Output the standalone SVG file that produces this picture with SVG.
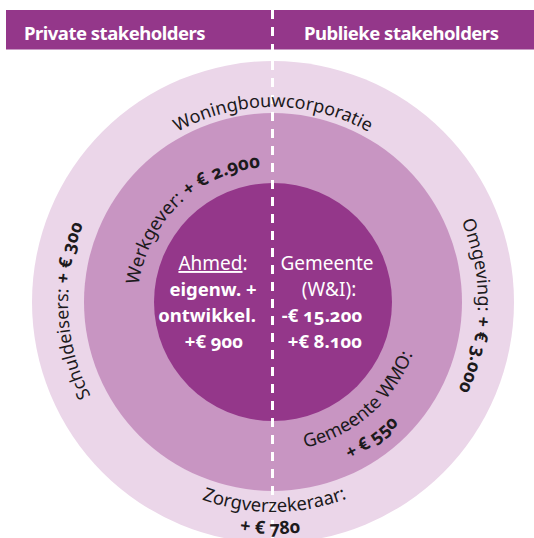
<svg xmlns="http://www.w3.org/2000/svg" width="534" height="538" viewBox="0 0 534 538">
<style>
.lbl{font-family:"Noto Sans","Open Sans","DejaVu Sans",sans-serif;font-size:18px;fill:#1c1a1c;font-variant-numeric:oldstyle-nums;font-feature-settings:"onum" 1}
.b{font-weight:bold}
.in{font-family:"Noto Sans","Open Sans","DejaVu Sans",sans-serif;font-size:19px;fill:#ffffff;text-anchor:middle;font-variant-numeric:oldstyle-nums;font-feature-settings:"onum" 1}
.ib{font-weight:bold;font-size:18.5px}
.hd{font-family:"Noto Sans","Open Sans","DejaVu Sans",sans-serif;font-size:18.5px;font-weight:bold;fill:#ffffff;letter-spacing:-0.5px}
</style>
<defs>
<path id="pTop" d="M 78,302 A 195 195 0 0 1 468,302"/>
<path id="pLeft" d="M 273,507 A 205 205 0 0 1 273,97"/>
<path id="pRight" d="M 273,97 A 205 205 0 0 1 273,507"/>
<path id="pBot" d="M 63,302 A 210 210 0 0 0 483,302"/>
<path id="pBot2" d="M 41,302 A 232 232 0 0 0 505,302"/>
<path id="pWerk" d="M 175.2,396.5 A 136 136 0 0 1 370.8,207.5"/>
<path id="pWmo" d="M 160.5,399.8 A 149 149 0 0 0 385.5,204.2"/>
<path id="pWmo2" d="M 131.4,404.9 A 175 175 0 0 0 414.6,199.1"/>
</defs>
<rect width="534" height="538" fill="#ffffff"/>
<g id="header">
<rect x="6" y="10" width="528" height="39.5" fill="#94378a"/>
</g>
<g id="ring-outer">
<circle cx="273" cy="302" r="241" fill="#ebd6e9"/>
</g>
<g id="ring-middle">
<circle cx="273" cy="302" r="189" fill="#c895c2"/>
</g>
<g id="ring-inner">
<circle cx="273" cy="302" r="119" fill="#94378a"/>
</g>
<g id="connectors">
<line x1="272.5" y1="10" x2="272.5" y2="538" stroke="#ffffff" stroke-width="3" stroke-dasharray="9 8"/>
</g>
<g id="header-private"><text class="hd" x="24" y="39.5">Private stakeholders</text></g>
<g id="header-public"><text class="hd" x="304" y="39.5">Publieke stakeholders</text></g>
<g id="outer-labels">
<text class="lbl"><textPath href="#pTop" startOffset="50%" text-anchor="middle">Woningbouwcorporatie</textPath></text>
<text class="lbl"><textPath href="#pLeft" startOffset="48.6%" text-anchor="middle">Schuldeisers: <tspan class="b">+ € 300</tspan></textPath></text>
<text class="lbl"><textPath href="#pRight" startOffset="50.6%" text-anchor="middle">Omgeving: <tspan class="b">+ € 3.000</tspan></textPath></text>
<text class="lbl" style="font-size:18.5px"><textPath href="#pBot" startOffset="50.2%" text-anchor="middle">Zorgverzekeraar:</textPath></text>
<text class="lbl b"><textPath href="#pBot2" startOffset="49.6%" text-anchor="middle">+ € 780</textPath></text>
</g>
<g id="middle-labels">
<text class="lbl" style="font-size:18.5px"><textPath href="#pWerk" startOffset="50%" text-anchor="middle">Werkgever: <tspan class="b">+ € 2.900</tspan></textPath></text>
<text class="lbl" style="font-size:18.5px"><textPath href="#pWmo" startOffset="50%" text-anchor="middle">Gemeente WMO:</textPath></text>
<text class="lbl b"><textPath href="#pWmo2" startOffset="50%" text-anchor="middle">+ € 550</textPath></text>
</g>
<g id="node-ahmed">
<text class="in" x="213" y="270"><tspan text-decoration="underline">Ahmed</tspan>:</text>
<text class="in ib" x="213" y="296">eigenw. +</text>
<text class="in ib" x="207" y="322">ontwikkel.</text>
<text class="in ib" x="214" y="348">+€ 900</text>
</g>
<g id="node-gemeente">
<text class="in" x="327" y="270">Gemeente</text>
<text class="in" x="329" y="296">(W&amp;I):</text>
<text class="in ib" x="322" y="322">-€ 15.200</text>
<text class="in ib" x="325" y="348">+€ 8.100</text>
</g>
</svg>
